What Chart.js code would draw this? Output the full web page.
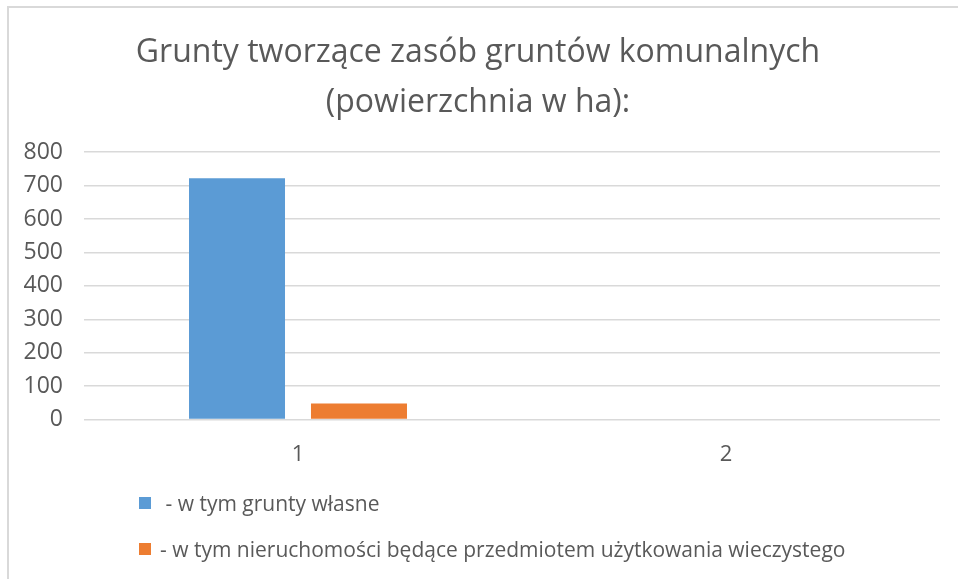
<!DOCTYPE html>
<html lang="pl">
<head>
<meta charset="utf-8">
<title>Grunty tworzące zasób gruntów komunalnych</title>
<script src="https://cdn.jsdelivr.net/npm/chart.js@4/dist/chart.umd.min.js"></script>
<style>
    html, body { margin: 0; padding: 0; background: #fff; }
    #wrap { position: relative; width: 958px; height: 579px; overflow: hidden; }
    #frame {
        position: absolute; left: 7px; top: 6px; right: -4px; bottom: -4px;
        border-left: 2px solid #d9d9d9; border-top: 2px solid #d9d9d9;
        pointer-events: none;
    }
    #legend { position: absolute; left: 139px; top: 488px; font-family: "Open Sans", sans-serif; color: #595959; }
    .legend-row { display: flex; align-items: center; height: 30px; margin-bottom: 16px; white-space: pre; }
    .legend-box { width: 12px; height: 12px; margin-right: 9px; flex: none; }
</style>
</head>
<body>
<div id="wrap">
    <canvas id="chart" width="958" height="579"></canvas>
    <div id="legend"></div>
    <div id="frame"></div>
</div>
<script>
(() => {
    // Kategorie i wartości (ha)
    const categories = ['1', '2'];
    const gruntyWlasne = [722, 0];
    const uzytkowanieWieczyste = [48, 0];
    const seriesNames = [' - w tym grunty własne', '- w tym nieruchomości będące przedmiotem użytkowania wieczystego'];
    const titleLines = ['Grunty tworzące zasób gruntów komunalnych', '(powierzchnia w ha):'];

    const textColor = '#595959';
    const font = '"Open Sans", sans-serif';

    const ctx = document.getElementById('chart').getContext('2d');
    const chart = new Chart(ctx, {
        type: 'bar',
        data: {
            labels: categories,
            datasets: [
                { label: seriesNames[0], data: gruntyWlasne, backgroundColor: '#5b9bd5' },
                { label: seriesNames[1], data: uzytkowanieWieczyste, backgroundColor: '#ed7d31' }
            ]
        },
        options: {
            responsive: false,
            animation: false,
            layout: { padding: { left: 16, right: 18, bottom: 89 } },
            datasets: { bar: { categoryPercentage: 0.57, barPercentage: 0.787 } },
            plugins: {
                legend: { display: false },
                tooltip: { enabled: false },
                title: {
                    display: true,
                    text: titleLines,
                    color: textColor,
                    font: { family: font, size: 32, weight: 'normal', lineHeight: 1.55 },
                    padding: { top: 28, bottom: 25 }
                }
            },
            scales: {
                x: {
                    grid: { display: false, drawTicks: false },
                    border: { display: false },
                    ticks: { color: textColor, font: { family: font, size: 22 }, padding: 22 }
                },
                y: {
                    min: 0,
                    max: 800,
                    // stała szerokość osi, żeby etykiety kończyły się tuż przed siatką
                    afterFit: scale => { scale.width = 68; },
                    ticks: { stepSize: 100, color: textColor, font: { family: font, size: 23 }, padding: 21 },
                    grid: { color: '#d9d9d9', lineWidth: 1.5, drawTicks: false },
                    border: { display: false }
                }
            }
        }
    });

    // Legenda pod wykresem, budowana z danych wykresu
    const legendEl = document.getElementById('legend');
    chart.data.datasets.forEach(ds => {
        const row = document.createElement('div');
        row.className = 'legend-row';
        const box = document.createElement('span');
        box.className = 'legend-box';
        box.style.background = ds.backgroundColor;
        const label = document.createElement('span');
        label.textContent = ds.label;
        label.style.fontSize = '21px';
        row.appendChild(box);
        row.appendChild(label);
        legendEl.appendChild(row);
    });
})();
</script>
</body>
</html>
